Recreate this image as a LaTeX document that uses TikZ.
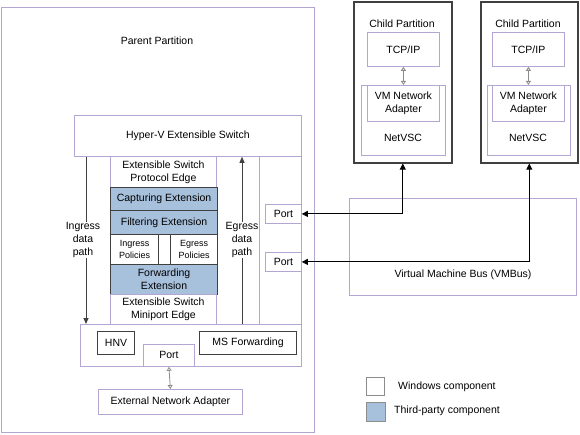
\documentclass[tikz,border=0pt]{standalone}
\usepackage{fontspec}
\setmainfont{Liberation Sans}
\usetikzlibrary{arrows.meta}
\definecolor{lav}{RGB}{180,166,210}
\definecolor{tp}{RGB}{167,192,220}
\definecolor{dk}{RGB}{64,64,64}
\definecolor{gr}{RGB}{140,140,140}
\begin{document}
\begin{tikzpicture}[x=1pt,y=-1pt,font=\fontsize{10.5}{13}\selectfont,
  box/.style={draw=lav,line width=0.8pt,fill=white,inner sep=0pt,anchor=north west,align=center},
  dbox/.style={draw=dk,line width=1.1pt,fill=white,inner sep=0pt,anchor=north west,align=center},
  tbox/.style={dbox,fill=tp},
  cbox/.style={draw=dk,line width=1.6pt,fill=white,inbox/.style={},inner sep=0pt,anchor=north west},
  lbl/.style={inner sep=0pt,align=center},
  small/.style={font=\fontsize{9}{12.5}\selectfont},
  conn/.style={black,line width=0.8pt,{Triangle[length=6pt,width=6pt]}-{Triangle[length=6pt,width=6pt]}},
  gconn/.style={gr,line width=0.8pt,{Triangle[open,length=4pt,width=5pt]}-{Triangle[open,length=4pt,width=5pt]}},
  path/.style={dk,line width=0.9pt,-{Triangle[length=6pt,width=5pt]}},
  leg/.style={draw=gr,line width=1.2pt,inner sep=0pt,anchor=north west}]
\useasboundingbox (0,0) rectangle (580,435);
% parent partition
\node[box,minimum width=313pt,minimum height=425pt] (parent) at (1,7) {};
\node[lbl] (parentlbl) at (157,41) {Parent Partition};
% switch
\node[box,minimum width=227pt,minimum height=41pt] (hv) at (74,115) {Hyper-V Extensible Switch};
\node[box,minimum width=42pt,minimum height=169pt] (col) at (259,156) {};
\node[box,minimum width=106pt,minimum height=31pt] (proto) at (110,156) {Extensible Switch\\Protocol Edge};
\node[tbox,minimum width=107pt,minimum height=23pt] (capt) at (110,187) {Capturing Extension};
\node[tbox,minimum width=107pt,minimum height=24pt] (filt) at (110,210) {Filtering Extension};
\node[dbox,small,minimum width=48pt,minimum height=30pt] (ingp) at (110,234) {Ingress\\Policies};
\node[dbox,small,minimum width=47pt,minimum height=30pt] (egrp) at (170,234) {Egress\\Policies};
\node[tbox,minimum width=107pt,minimum height=30pt] (fwd) at (110,264) {Forwarding\\Extension};
\node[box,minimum width=106pt,minimum height=30pt] (mini) at (110,294) {Extensible Switch\\Miniport Edge};
\node[box,minimum width=221pt,minimum height=42pt] (bot) at (80,324) {};
\node[dbox,minimum width=37pt,minimum height=23pt] (hnv) at (97,331) {HNV};
\node[box,minimum width=51pt,minimum height=22pt] (pbot) at (143,344) {Port};
\node[dbox,minimum width=97pt,minimum height=23pt] (msf) at (199,331) {MS Forwarding};
\node[box,minimum width=144pt,minimum height=25pt] (ext) at (98,389) {External Network Adapter};
\node[box,minimum width=36pt,minimum height=19pt] (p1) at (265,204) {Port};
\node[box,minimum width=36pt,minimum height=19pt] (p2) at (265,252) {Port};
% data paths
\draw[path] ([xshift=12pt]hv.south west) -- ([xshift=6pt]bot.north west);
\draw[path] ([xshift=162pt]bot.north west) -- ([xshift=168pt]hv.south west);
\node[lbl,fill=white] (ingl) at (83,240) {Ingress\\data\\path};
\node[lbl,fill=white] (egrl) at (242,240) {Egress\\data\\path};
% VMBus
\node[box,minimum width=227pt,minimum height=97pt] (vmbus) at (349,198) {};
\node[lbl] (vmbuslbl) at (463,275) {Virtual Machine Bus (VMBus)};
% child partitions
\node[cbox,minimum width=98pt,minimum height=161pt] (c1) at (353,1) {};
\node[lbl] (c1l) at (402,24) {Child Partition};
\node[box,minimum width=72pt,minimum height=34pt] (tcp1) at (367,32) {TCP/IP};
\node[box,minimum width=84pt,minimum height=70pt] (nv1) at (361,85) {};
\node[lbl] (nv1l) at (403,138) {NetVSC};
\node[box,minimum width=72pt,minimum height=36pt] (vma1) at (367,85) {VM Network\\Adapter};
\node[cbox,minimum width=97pt,minimum height=161pt] (c2) at (480,1) {};
\node[lbl] (c2l) at (528,24) {Child Partition};
\node[box,minimum width=72pt,minimum height=34pt] (tcp2) at (492,32) {TCP/IP};
\node[box,minimum width=83pt,minimum height=70pt] (nv2) at (487,85) {};
\node[lbl] (nv2l) at (528,138) {NetVSC};
\node[box,minimum width=72pt,minimum height=36pt] (vma2) at (492,85) {VM Network\\Adapter};
% connectors
\draw[gconn] (tcp1.south) -- (vma1.north);
\draw[gconn] (tcp2.south) -- (vma2.north);
\draw[gconn] (pbot.south) -- (ext.north);
\draw[conn] (c1.south) |- (p1.east);
\draw[conn] (c2.south) |- (p2.east);
% legend
\node[leg,fill=white,minimum width=18pt,minimum height=18pt] (lw) at (366,377) {};
\node[lbl,anchor=west] (lwt) at (398,387) {Windows component};
\node[leg,fill=tp,minimum width=19pt,minimum height=19pt] (lt) at (366,402) {};
\node[lbl,anchor=west] (ltt) at (394,411) {Third-party component};
\end{tikzpicture}
\end{document}
